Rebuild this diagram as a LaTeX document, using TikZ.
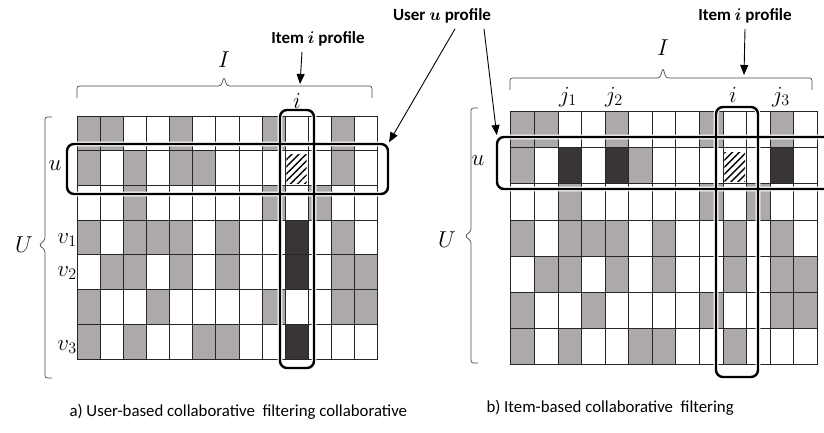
\documentclass[tikz,border=0pt]{standalone}
\usepackage{fix-cm}
\usepackage{fontspec}
\usepackage{bm}
\setmainfont{Carlito}
\usetikzlibrary{arrows.meta,patterns.meta}
\definecolor{cellgray}{RGB}{173,169,169}
\definecolor{celldark}{RGB}{58,53,53}
\tikzset{
  cell/.style={draw=black!85, line width=0.7pt},
  cellg/.style={cell, fill=cellgray},
  cellw/.style={cell, fill=white},
  celld/.style={cell, fill=celldark},
  cellh/.style={cell, fill=white},
  hatch/.style={pattern={Lines[angle=45,distance=5pt,line width=1.4pt]}},
  frame/.style={line width=2.4pt, rounded corners=7pt},
  halo/.style={line width=4.6pt, white, rounded corners=7pt},
  brc/.style={line width=0.7pt, black!70, rounded corners=2.5pt},
  lbl/.style={font=\fontsize{23}{26}\selectfont},
  tag/.style={font=\bfseries\fontsize{17}{20}\selectfont},
  captext/.style={font=\fontsize{16.8}{19}\selectfont, anchor=west},
  pointer/.style={-{Triangle[length=10pt,width=8pt]}, line width=0.9pt},
}
\begin{document}
\begin{tikzpicture}[x=1pt,y=-1pt]
  \useasboundingbox (0,0) rectangle (824,432);

  % Left matrix: user-based
  \begin{scope}[shift={(77.3,116)}, x=23.08pt, y=-34.7pt]
    \foreach \cells [count=\row] in {
      {g,g,w,w,g,w,w,w,g,w,w,g,w},
      {g,w,g,w,g,g,w,w,w,h,w,g,w},
      {w,w,g,w,w,w,w,w,g,w,g,w,w},
      {g,w,g,g,g,w,g,w,w,d,w,g,w},
      {w,g,g,w,g,w,g,w,w,d,w,g,g},
      {g,w,w,g,w,w,w,w,g,w,w,g,g},
      {g,w,g,w,w,g,g,w,w,d,w,w,w}}
      \foreach \kind [count=\col] in \cells
        \path[cell\kind] (\col-1,\row-1) rectangle (\col,\row);
    \fill[hatch] (9.06,1.12) rectangle (9.94,1.94);
  \end{scope}

  % Right matrix: item-based
  \begin{scope}[shift={(510.7,111.7)}, x=23.58pt, y=-36.05pt]
    \foreach \cells [count=\row] in {
      {g,g,w,w,g,w,w,w,g,w,w,g,w},
      {g,w,d,w,d,g,w,w,w,h,w,d,w},
      {w,w,g,w,w,w,w,w,g,w,g,w,w},
      {g,w,g,g,g,w,g,w,w,g,w,g,w},
      {w,g,g,w,g,w,g,w,w,g,w,g,g},
      {g,w,w,g,w,w,w,w,g,w,w,g,g},
      {g,w,g,w,w,g,g,w,w,g,w,w,w}}
      \foreach \kind [count=\col] in \cells
        \path[cell\kind] (\col-1,\row-1) rectangle (\col,\row);
    \fill[hatch] (9.06,1.12) rectangle (9.94,1.94);
  \end{scope}

  % Profile boxes
  \coordinate (uL1) at (67,144);  \coordinate (uL2) at (388,194);
  \coordinate (iL1) at (280,110); \coordinate (iL2) at (314,368);
  \coordinate (uR1) at (497,137); \coordinate (uR2) at (850,189);
  \coordinate (iR1) at (716,107); \coordinate (iR2) at (758,377);
  \foreach \a/\b in {uL1/uL2,iL1/iL2,uR1/uR2,iR1/iR2}
    \draw[halo] (\a) rectangle (\b);
  \foreach \a/\b in {uL1/uL2,iL1/iL2,uR1/uR2,iR1/iR2}
    \draw[frame] (\a) rectangle (\b);

  % Braces
  \draw[brc] (77,98) -- (77,86) -- (221,86) -- (224,77) -- (227,86) -- (372,86) -- (372,98);
  \draw[brc] (510,90) -- (510,78) -- (660,78) -- (663,68) -- (666,78) -- (812,78) -- (812,90);
  \draw[brc] (52,117) -- (45,117) -- (45,240) -- (39,245) -- (45,250) -- (45,378) -- (52,378);
  \draw[brc] (478,108) -- (471,108) -- (471,231) -- (465,236) -- (471,241) -- (471,363) -- (478,363);

  % Math labels
  \node[lbl] (IL) at (224,60) {$I$};
  \node[lbl] (IR) at (663,48) {$I$};
  \node[lbl] (UL) at (24,245) {$U$};
  \node[lbl] (UR) at (447,240) {$U$};
  \node[lbl] (iL) at (297,101) {$i$};
  \node[lbl] (uL) at (55,166) {$u$};
  \node[lbl] (v1) at (67,240) {$v_1$};
  \node[lbl] (v2) at (67,273) {$v_2$};
  \node[lbl] (v3) at (67,347) {$v_3$};
  \node[lbl] (uR) at (478,161) {$u$};
  \node[lbl] (j1) at (568,97) {$j_1$};
  \node[lbl] (j2) at (614,97) {$j_2$};
  \node[lbl] (iR) at (733,95) {$i$};
  \node[lbl] (j3) at (781,97) {$j_3$};

  % Profile tags and pointers
  \node[tag] (itemL) at (318,39) {Item $\bm{i}$ profile};
  \node[tag] (itemR) at (745,16) {Item $\bm{i}$ profile};
  \node[tag] (userU) at (442,16) {User $\bm{u}$ profile};
  \coordinate (itipL) at (300,84);
  \coordinate (itipR) at (744,75);
  \draw[pointer] ([xshift=-16pt,yshift=-2pt]itemL.south) -- (itipL);
  \draw[pointer] ([yshift=-2pt]itemR.south) -- (itipR);
  \draw[pointer, shorten >=2pt] ([xshift=13pt,yshift=-2pt]userU.south) -- (uL2 |- uL1);
  \draw[pointer, shorten >=2pt] ([xshift=42pt,yshift=-2pt]userU.south) -- (uR1);

  % Captions
  \node[captext] (capA) at (66,412) {a) User-based collaborative~ filtering collaborative};
  \node[captext] (capB) at (483,408) {b) Item-based collaborative~ filtering};
\end{tikzpicture}
\end{document}
